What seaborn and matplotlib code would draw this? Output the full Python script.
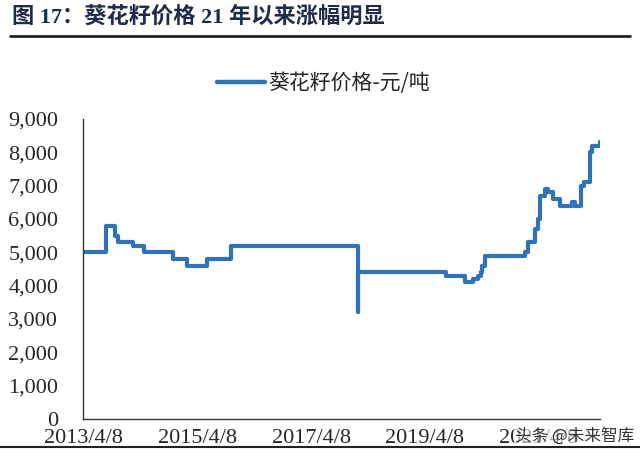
import pandas as pd
import seaborn as sns
import matplotlib.pyplot as plt
from matplotlib.ticker import FuncFormatter
from matplotlib.lines import Line2D

# sunflower seed price, yuan/ton (step series)
dates = [
    "2013-04-08", "2013-09-03", "2013-10-30", "2013-11-14", "2014-02-22",
    "2014-05-03", "2014-11-03", "2015-02-01", "2015-06-13", "2015-11-09",
    "2018-01-30", "2018-01-31", "2018-02-01", "2019-08-24", "2019-12-24",
    "2020-02-10", "2020-03-14", "2020-04-01", "2020-04-08", "2020-04-27",
    "2021-01-08", "2021-01-29", "2021-03-15", "2021-04-01", "2021-04-15",
    "2021-05-15", "2021-06-05", "2021-07-08", "2021-08-21", "2021-09-24",
    "2021-11-04", "2021-11-25", "2022-01-01", "2022-01-21", "2022-02-27",
    "2022-03-13", "2022-04-28", "2022-05-03",
]
prices = [
    5000, 5800, 5500, 5300, 5200,
    5000, 4800, 4600, 4800, 5200,
    5200, 3200, 4400, 4300, 4100,
    4200, 4300, 4400, 4600, 4900,
    5000, 5300, 5700, 6000, 6700,
    6900, 6800, 6600, 6400, 6400,
    6500, 6400, 7000, 7100, 8000,
    8200, 8200, 8300,
]
series_name = "葵花籽价格-元/吨"
title = "图 17：葵花籽价格 21 年以来涨幅明显"
tick_dates = ["2013-04-08", "2015-04-08", "2017-04-08", "2019-04-08", "2021-04-08"]
tick_labels = ["2013/4/8", "2015/4/8", "2017/4/8", "2019/4/8", "2021/4/8"]

df = pd.DataFrame({"date": pd.to_datetime(dates), "price": prices})

sns.set_style("white")
plt.rcParams["font.family"] = ["Liberation Serif", "Noto Sans CJK SC"]

fig = plt.figure(figsize=(6.4, 4.57), dpi=100)
ax = fig.add_axes([0.130, 0.0832, 0.8075, 0.6564])

line_color = "#2f72b8"
sns.lineplot(data=df, x="date", y="price", ax=ax, color=line_color,
             linewidth=3.0, drawstyle="steps-post", legend=False)

ax.set_xlim(pd.Timestamp("2013-04-08"), pd.Timestamp("2022-05-05"))
ax.set_ylim(0, 9000)
ax.set_yticks(range(0, 9001, 1000))
ax.yaxis.set_major_formatter(FuncFormatter(lambda v, p: f"{int(v):,}"))
ax.set_xticks(pd.to_datetime(tick_dates))
ax.set_xticklabels(tick_labels)
ax.set_xlabel("")
ax.set_ylabel("")

for s in ["top", "right"]:
    ax.spines[s].set_visible(False)
for s in ["left", "bottom"]:
    ax.spines[s].set_color("#333333")
    ax.spines[s].set_linewidth(1.0)
ax.tick_params(axis="y", direction="in", length=7, width=1, color="#333333",
               labelsize=16, pad=18)
ax.tick_params(axis="x", direction="in", length=6, width=1, color="#333333",
               labelsize=16, pad=7)

# legend on top
handle = Line2D([], [], color=line_color, linewidth=3.2)
fig.legend([handle], [series_name], loc="center", bbox_to_anchor=(0.505, 0.818),
           frameon=False, handlelength=2.3, handletextpad=0.15,
           prop={"family": ["Noto Sans CJK SC"], "size": 15})

# title and rules
fig.text(0.019, 0.962, title, fontsize=16, fontweight="bold",
         color="#1f2b4a", family=["Liberation Serif", "Noto Sans CJK SC"],
         va="center", ha="left")
fig.add_artist(Line2D([0.015, 0.985], [0.922, 0.922], color="#222222",
                      linewidth=2, transform=fig.transFigure))
fig.add_artist(Line2D([0.0, 1.0], [0.022, 0.022], color="#222222",
                      linewidth=1.5, transform=fig.transFigure))

# watermark
fig.text(0.805, 0.046, "头条 @未来智库", fontsize=12, color="#333333",
         family=["Noto Sans CJK SC"], va="center", ha="left",
         bbox=dict(facecolor="white", edgecolor="none", alpha=0.6, pad=1))

fig.savefig("out.png", dpi=100)
